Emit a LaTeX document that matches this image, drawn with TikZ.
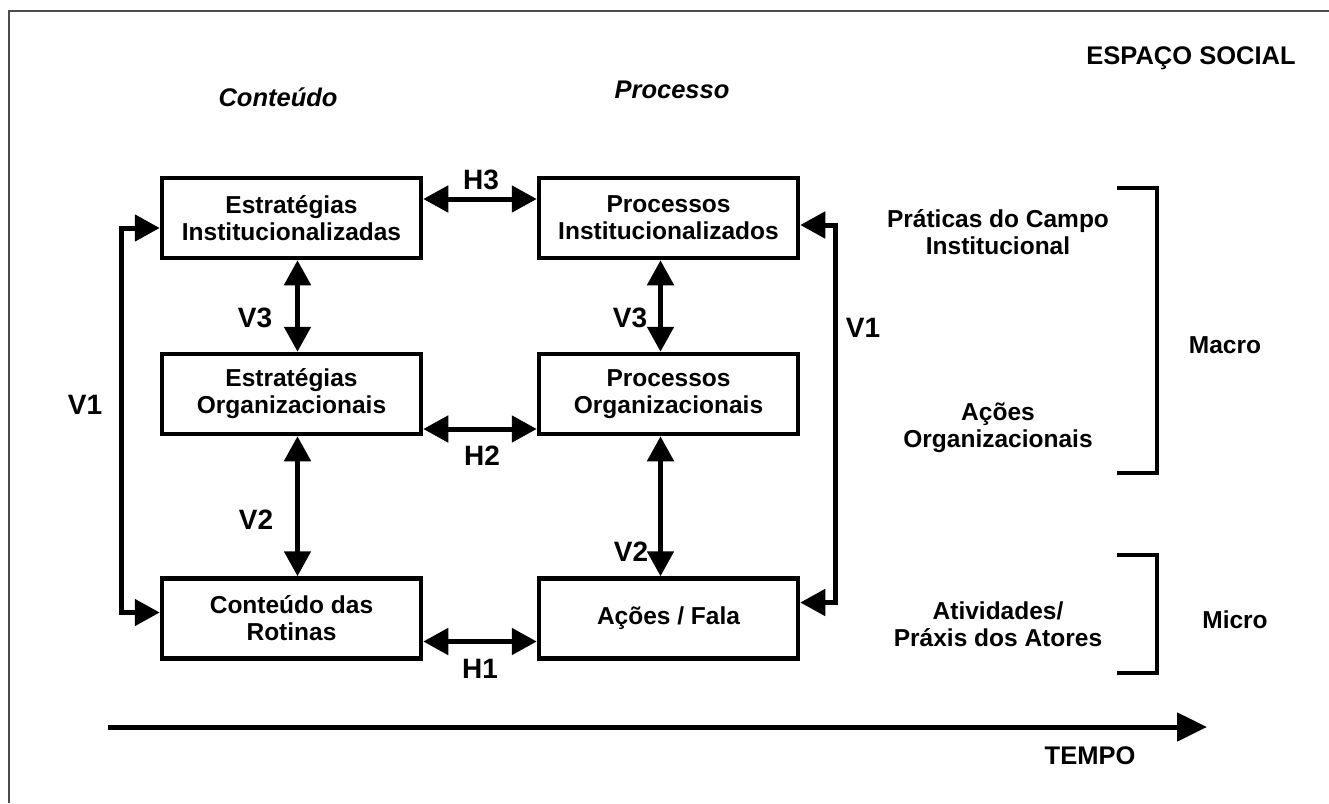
\documentclass[tikz,border=0pt]{standalone}
\usepackage{fontspec}
\setmainfont{Liberation Sans}
\usetikzlibrary{arrows.meta}

\begin{document}
\begin{tikzpicture}[x=1pt,y=-1pt,
    box/.style={draw, line width=4.5pt, minimum width=259pt, minimum height=80pt,
      align=center, font=\fontsize{24.5}{27}\selectfont\bfseries},
    lbl/.style={font=\fontsize{28}{30}\selectfont\bfseries},
    side/.style={align=center, font=\fontsize{24.5}{27}\selectfont\bfseries},
    head/.style={font=\fontsize{25.5}{30}\selectfont\bfseries\itshape},
    link/.style={line width=5pt, {Triangle[length=25pt,width=26pt]}-{Triangle[length=25pt,width=26pt]}}]
    \useasboundingbox (0,0) rectangle (1329,803);
    \draw[black!70, line width=1.5pt] (9,803) -- (9,11) -- (1329,11);

    % the six boxes
    \node[box] (ei) at (291.5,218) {Estratégias\\Institucionalizadas};
    \node[box] (eo) at (291.5,394) {Estratégias\\Organizacionais};
    \node[box] (cr) at (291.5,618.5) {Conteúdo das\\Rotinas};
    \node[box] (pi) at (668.5,218) {Processos\\Institucionalizados};
    \node[box] (po) at (668.5,394) {Processos\\Organizacionais};
    \node[box] (af) at (668.5,618.5) {Ações / Fala};

    % headings
    \node[head] (cont) at (278,97) {Conteúdo};
    \node[head] (proc) at (672,90) {Processo};
    \node[font=\fontsize{25.5}{30}\selectfont\bfseries] (esp) at (1191,58) {ESPAÇO SOCIAL};

    % links
    \draw[link] ([yshift=19pt]ei.east) -- ([yshift=19pt]pi.west);
    \draw[link] ([yshift=-35pt]eo.east) -- ([yshift=-35pt]po.west);
    \draw[link] ([yshift=-23pt]cr.east) -- ([yshift=-23pt]af.west);
    \draw[link] ([xshift=6pt]ei.south) -- ([xshift=6pt]eo.north);
    \draw[link] ([xshift=6pt]eo.south) -- ([xshift=6pt]cr.north);
    \draw[link] ([xshift=-8pt]pi.south) -- ([xshift=-8pt]po.north);
    \draw[link] ([xshift=-8pt]po.south) -- ([xshift=-8pt]af.north);
    \draw[link] ([yshift=-10pt]ei.west) -- ++(-38,0) |- ([yshift=6pt]cr.west);
    \draw[link] ([yshift=-7pt]pi.east) -- ++(35,0) |- ([yshift=16pt]af.east);

    \node[lbl] (h3) at (481,180) {H3};
    \node[lbl] (h2) at (482,456) {H2};
    \node[lbl] (h1) at (480,669) {H1};
    \node[lbl] (v3a) at (255,318) {V3};
    \node[lbl] (v2a) at (256,520) {V2};
    \node[lbl] (v3b) at (630,318) {V3};
    \node[lbl] (v2b) at (631,552) {V2};
    \node[lbl] (v1a) at (85,405) {V1};
    \node[lbl] (v1b) at (863,328) {V1};

    % levels
    \node[side] (prat) at (998,232) {Práticas do Campo\\Institucional};
    \node[side] (acoes) at (998,428) {Ações\\Organizacionais};
    \node[side] (ativ) at (998,624) {Atividades/\\Práxis dos Atores};
    \draw[line width=4pt] (1117,188) -- (1157,188) -- (1157,473) -- (1117,473);
    \draw[line width=4pt] (1117,555) -- (1157,555) -- (1157,673) -- (1117,673);
    \node[side] (macro) at (1225,345) {Macro};
    \node[side] (micro) at (1235,620) {Micro};

    % time axis
    \coordinate (t0) at (108,727);
    \coordinate (t1) at (1207,727);
    \draw[line width=5pt, -{Triangle[length=30pt,width=28pt]}] (t0) -- (t1);
    \node[font=\fontsize{25.5}{30}\selectfont\bfseries] (tempo) at (1090,756) {TEMPO};
\end{tikzpicture}
\end{document}
